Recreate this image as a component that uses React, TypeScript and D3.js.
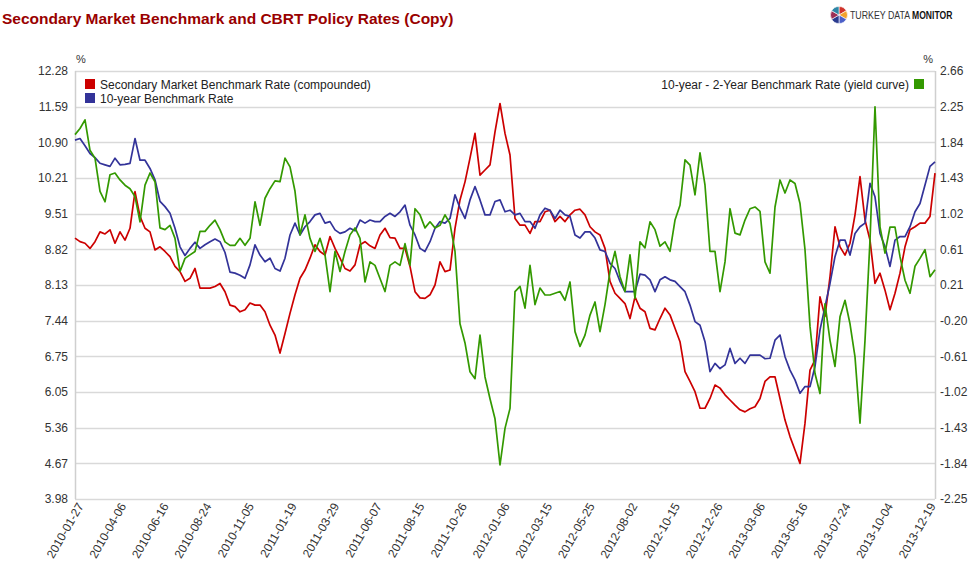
import React from 'react';
import * as d3 from 'd3';

// Secondary Market Benchmark Rate (compounded) – left axis, %
const secondaryRate: number[] = [
  9.04, 8.97, 8.94, 8.84, 8.97, 9.16, 9.12, 9.20, 8.94, 9.16, 9.00, 9.23, 9.94, 9.46, 9.23, 9.16, 8.81, 8.87, 8.78, 8.68,
  8.49, 8.39, 8.20, 8.26, 8.45, 8.07, 8.07, 8.07, 8.10, 8.16, 8.00, 7.74, 7.71, 7.61, 7.65, 7.78,
  7.74, 7.74, 7.61, 7.35, 7.16, 6.81, 7.19, 7.58, 7.94, 8.26, 8.42, 8.65, 8.91, 8.78, 8.71, 9.07, 8.84, 8.65, 8.45, 8.40,
  8.52, 8.91, 8.97, 8.89, 8.84, 9.10, 9.23, 9.05, 9.04, 8.84, 8.84, 8.49, 8.00, 7.88, 7.87,
  7.94, 8.13, 8.58, 8.39, 8.42, 9.23, 9.78, 10.13, 10.59, 11.07, 10.26, 10.36, 10.46, 11.10, 11.65, 11.07, 10.65, 9.42, 9.29, 9.29,
  9.13, 9.36, 9.36, 9.55, 9.58, 9.36, 9.46, 9.36, 9.49, 9.58, 9.60, 9.49, 9.26, 9.16, 9.10,
  8.84, 8.20, 7.97, 7.87, 7.77, 7.48, 7.90, 7.68, 7.61, 7.29, 7.26, 7.48, 7.68, 7.55, 7.29, 7.03, 6.45, 6.26, 6.06, 5.74,
  5.74, 5.93, 6.19, 6.13, 6.00, 5.90, 5.80, 5.71, 5.67, 5.73, 5.77, 5.93, 6.26,
  6.35, 6.35, 5.93, 5.51, 5.19, 4.93, 4.67, 5.45, 6.48, 6.68, 7.90, 7.52, 8.29, 9.26, 8.87, 8.71, 8.94, 9.49, 10.23, 9.39,
  9.00, 8.16, 8.36, 8.03, 7.65, 7.97, 8.36, 8.87, 9.20, 9.26, 9.33, 9.33, 9.46, 10.30,
];

// 10-year Benchmark Rate – left axis, %
const tenYearRate: number[] = [
  10.94, 10.97, 10.83, 10.68, 10.60, 10.49, 10.46, 10.43, 10.59, 10.46, 10.47, 10.49, 10.97, 10.55, 10.55, 10.39, 10.17, 9.75, 9.65, 9.52,
  9.23, 8.87, 8.70, 8.84, 8.96, 8.84, 8.91, 8.97, 9.02, 8.97, 8.76, 8.38, 8.36, 8.32, 8.26, 8.52,
  8.91, 8.71, 8.58, 8.65, 8.45, 8.40, 8.65, 9.10, 9.33, 9.10, 9.26, 9.36, 9.49, 9.52, 9.33, 9.36, 9.20, 9.13, 9.16, 9.23,
  9.18, 9.39, 9.33, 9.39, 9.36, 9.36, 9.46, 9.52, 9.46, 9.55, 9.68, 9.29, 9.10, 8.84, 8.78,
  8.97, 9.23, 9.36, 9.33, 9.42, 9.88, 9.62, 9.42, 9.78, 10.04, 9.78, 9.49, 9.49, 9.75, 9.78, 9.55, 9.58, 9.49, 9.52, 9.36,
  9.36, 9.23, 9.49, 9.62, 9.58, 9.42, 9.58, 9.49, 9.46, 9.10, 9.04, 9.16, 9.16, 9.04, 8.81,
  8.78, 8.55, 8.45, 8.20, 8.00, 8.00, 8.00, 8.34, 8.32, 8.23, 8.00, 8.23, 8.29, 8.23, 8.20, 8.10, 8.00, 7.74, 7.42, 7.35,
  7.03, 6.45, 6.61, 6.51, 6.58, 6.90, 6.61, 6.71, 6.61, 6.77, 6.77, 6.77, 6.70,
  6.71, 7.06, 7.16, 6.74, 6.48, 6.29, 6.03, 6.16, 6.16, 6.55, 7.26, 7.71, 8.16, 8.68, 9.00, 9.00, 8.71, 9.13, 9.26, 9.33,
  10.10, 9.84, 9.13, 8.87, 8.49, 9.00, 9.07, 9.07, 9.26, 9.55, 9.71, 10.07, 10.43, 10.52,
];

// 10-year - 2-Year Benchmark Rate (yield curve) – right axis, %
const yieldCurve: number[] = [
  1.93, 2.00, 2.10, 1.75, 1.66, 1.28, 1.16, 1.47, 1.49, 1.41, 1.35, 1.31, 1.22, 0.93, 1.35, 1.49, 1.39, 0.86, 0.84, 0.89,
  0.74, 0.36, 0.51, 0.55, 0.59, 0.82, 0.82, 0.89, 0.95, 0.84, 0.70, 0.66, 0.66, 0.74, 0.66, 0.74,
  1.16, 0.89, 1.20, 1.31, 1.40, 1.39, 1.66, 1.56, 1.28, 0.78, 1.01, 0.74, 0.59, 0.74, 0.55, 0.13, 0.59, 0.36, 0.59, 0.78,
  0.86, 0.74, 0.24, 0.47, 0.43, 0.28, 0.13, 0.43, 0.47, 0.43, 0.68, 0.43, 1.08, 1.01, 0.86,
  0.93, 0.86, 0.89, 1.01, 0.91, 0.59, -0.24, -0.46, -0.79, -0.87, -0.37, -0.85, -1.10, -1.33, -1.86, -1.44, -1.21, 0.13, 0.19, -0.06,
  0.43, -0.02, 0.17, 0.09, 0.09, 0.11, 0.13, 0.03, 0.24, -0.33, -0.50, -0.37, -0.14, 0.01, -0.33,
  -0.02, 0.36, 0.59, 0.30, 0.13, 0.55, 0.05, 0.70, 0.63, 0.93, 0.84, 0.65, 0.70, 0.59, 0.95, 1.12, 1.64, 1.58, 1.24, 1.72,
  1.35, 0.59, 0.59, 0.13, 0.47, 1.08, 0.80, 0.78, 0.95, 1.08, 1.10, 1.05, 0.47,
  0.34, 1.10, 1.41, 1.26, 1.41, 1.37, 1.14, 0.61, -0.27, -0.81, -1.04, -0.01, -0.43, -0.73, -0.16, 0.03, -0.24, -0.62, -1.38, -0.43,
  0.72, 2.25, 0.87, 0.57, 0.87, 0.87, 0.53, 0.26, 0.11, 0.42, 0.51, 0.61, 0.30, 0.38,
];

const xTickLabels: string[] = [
  '2010-01-27', '2010-04-06', '2010-06-16', '2010-08-24', '2010-11-05', '2011-01-19', '2011-03-29',
  '2011-06-07', '2011-08-15', '2011-10-26', '2012-01-06', '2012-03-15', '2012-05-25', '2012-08-02',
  '2012-10-15', '2012-12-26', '2013-03-06', '2013-05-16', '2013-07-24', '2013-10-04', '2013-12-19',
];
const leftTickLabels: string[] = ['3.98', '4.67', '5.36', '6.05', '6.75', '7.44', '8.13', '8.82', '9.51', '10.21', '10.90', '11.59', '12.28'];
const rightTickLabels: string[] = ['-2.25', '-1.84', '-1.43', '-1.02', '-0.61', '-0.20', '0.21', '0.61', '1.02', '1.43', '1.84', '2.25', '2.66'];
const leftDomain: [number, number] = [3.98, 12.28];
const rightDomain: [number, number] = [-2.25, 2.66];

const seriesNames = [
  'Secondary Market Benchmark Rate (compounded)',
  '10-year Benchmark Rate',
  '10-year - 2-Year Benchmark Rate (yield curve)',
];
const seriesColors = ['#cc0000', '#333399', '#339900'];
const logoColors = ['#d0342c', '#f2a22c', '#4b5fc8', '#2a3b8f', '#9c2f55', '#2f86a6'];

const W = 979;
const H = 570;
const X0 = 75;
const X1 = 935;
const Y0 = 71;
const Y1 = 499;
const TICK_STEP = 8.52; // samples between labelled dates
const FONT = 'Arial, "Liberation Sans", Helvetica, sans-serif';

export default function App() {
  const n = secondaryRate.length;
  const x = d3.scaleLinear().domain([0, n - 1]).range([X0, X1]);
  const yL = d3.scaleLinear().domain(leftDomain).range([Y1, Y0]);
  const yR = d3.scaleLinear().domain(rightDomain).range([Y1, Y0]);
  const lineL = d3.line<number>().x((_, i) => x(i)).y((d) => yL(d));
  const lineR = d3.line<number>().x((_, i) => x(i)).y((d) => yR(d));

  const nT = leftTickLabels.length - 1;
  const leftVals = leftTickLabels.map((_, i) => leftDomain[0] + (i * (leftDomain[1] - leftDomain[0])) / nT);
  const rightVals = rightTickLabels.map((_, i) => rightDomain[0] + (i * (rightDomain[1] - rightDomain[0])) / nT);

  const pie = d3.pie<number>().sort(null)(logoColors.map(() => 1));
  const arc = d3.arc<d3.PieArcDatum<number>>().innerRadius(0).outerRadius(8.5);

  return (
    <svg width={W} height={H} style={{ position: 'absolute', left: 0, top: 0, background: '#fff' }} fontFamily={FONT}>
      <rect x={0} y={0} width={W} height={H} fill="#fff" />
      <text x={2} y={24} fill="#990000" fontSize={15.5} fontWeight="bold">
        Secondary Market Benchmark and CBRT Policy Rates (Copy)
      </text>

      {/* logo */}
      <g transform="translate(839,15)">
        {pie.map((p, i) => (
          <path key={i} d={arc(p) || ''} fill={logoColors[i]} stroke="#fff" strokeWidth={0.6} />
        ))}
      </g>
      <text transform="translate(850,19) scale(0.8,1)" fontSize={11} fill="#333">TURKEY DATA</text>
      <text transform="translate(912,19) scale(0.78,1)" fontSize={11} fill="#111" fontWeight="bold">MONITOR</text>

      {/* grid */}
      {leftVals.map((v, i) => (
        <line key={i} x1={X0} x2={X1} y1={Math.round(yL(v)) + 0.5} y2={Math.round(yL(v)) + 0.5} stroke="#d9d9d9" strokeWidth={1.5} />
      ))}
      <line x1={X0 + 0.5} x2={X0 + 0.5} y1={Y0} y2={Y1} stroke="#cfcfcf" strokeWidth={1.5} />
      <line x1={X1 + 0.5} x2={X1 + 0.5} y1={Y0} y2={Y1} stroke="#cfcfcf" strokeWidth={1.5} />

      {/* left ticks */}
      {leftVals.map((v, i) => (
        <text key={i} x={68} y={yL(v)} dy="0.35em" textAnchor="end" fontSize={12} fill="#333">
          {leftTickLabels[i]}
        </text>
      ))}
      {rightVals.map((v, i) => (
        <text key={i} x={940} y={yR(v)} dy="0.35em" textAnchor="start" fontSize={12} fill="#333">
          {rightTickLabels[i]}
        </text>
      ))}
      <text x={76} y={63} fontSize={11} fill="#333">%</text>
      <text x={933} y={63} fontSize={11} fill="#333" textAnchor="end">%</text>

      {/* x labels */}
      {xTickLabels.map((lab, i) => {
        const tx = x(i * TICK_STEP);
        return (
          <text key={lab} transform={`translate(${tx + 9},${506}) rotate(-60)`} textAnchor="end" fontSize={12} fill="#333">
            {lab}
          </text>
        );
      })}

      {/* series */}
      <path d={lineL(secondaryRate) || ''} fill="none" stroke={seriesColors[0]} strokeWidth={1.7} strokeLinejoin="round" />
      <path d={lineL(tenYearRate) || ''} fill="none" stroke={seriesColors[1]} strokeWidth={1.7} strokeLinejoin="round" />
      <path d={lineR(yieldCurve) || ''} fill="none" stroke={seriesColors[2]} strokeWidth={1.7} strokeLinejoin="round" />

      {/* legends */}
      <rect x={85} y={79} width={10} height={10} fill={seriesColors[0]} />
      <text x={100} y={88.5} fontSize={12} fill="#222">{seriesNames[0]}</text>
      <rect x={85} y={93} width={10} height={10} fill={seriesColors[1]} />
      <text x={100} y={102.5} fontSize={12} fill="#222">{seriesNames[1]}</text>
      <rect x={914} y={79} width={10} height={10} fill={seriesColors[2]} />
      <text x={909} y={88.5} fontSize={12} fill="#222" textAnchor="end">{seriesNames[2]}</text>
    </svg>
  );
}
